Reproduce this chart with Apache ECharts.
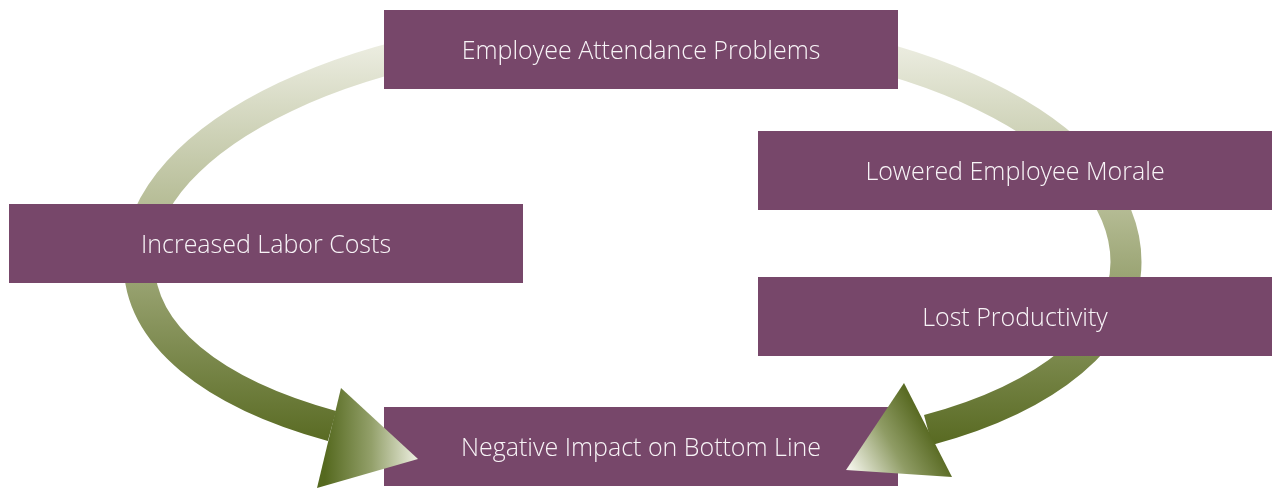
<!DOCTYPE html>
<html>
<head>
<meta charset="utf-8">
<title>Attendance cycle</title>
<script src="https://cdn.jsdelivr.net/npm/echarts@6/dist/echarts.min.js"></script>
<style>
	html, body { margin: 0; padding: 0; background: #fff; }
	#cycle { width: 1281px; height: 491px; }
</style>
</head>
<body>
<div id="cycle"></div>
<script>
// step labels of the cycle, in reading order
var steps = [
	'Employee Attendance Problems',
	'Lowered Employee Morale',
	'Lost Productivity',
	'Negative Impact on Bottom Line',
	'Increased Labor Costs'
];

var chart = echarts.init(document.getElementById('cycle'), null, { renderer: 'canvas' });

// where each box sits (left, top), same order as steps
var slots = [[384, 10], [758, 131], [758, 277], [384, 407], [9, 204]];
var boxW = 514, boxH = 79;

function linear(x, y, x2, y2, stops) {
	return {
		type: 'linear', x: x, y: y, x2: x2, y2: y2, global: true,
		colorStops: stops
	};
}

var ringColor = linear(0, 20, 0, 450, [
	{ offset: 0, color: '#f4f4ec' },
	{ offset: 0.45, color: '#b3ba92' },
	{ offset: 1, color: '#56681f' }
]);

// the loop as four curve pieces: [x1, y1, cpx1, cpy1, cpx2, cpy2, x2, y2]
var ringPieces = [
	[641, 27, 362, 27, 139, 135, 139, 262],
	[139, 262, 139, 335, 212, 393, 332, 426],
	[641, 27, 909, 27, 1126, 132, 1126, 262],
	[1126, 262, 1126, 335, 1048, 398, 928, 430]
];

var elements = [];

ringPieces.forEach(function (p) {
	elements.push({
		type: 'bezierCurve',
		shape: {
			x1: p[0], y1: p[1], cpx1: p[2], cpy1: p[3],
			cpx2: p[4], cpy2: p[5], x2: p[6], y2: p[7]
		},
		style: { fill: null, stroke: ringColor, lineWidth: 31 },
		z: 1
	});
});

steps.forEach(function (txt, i) {
	elements.push({
		type: 'rect',
		shape: { x: slots[i][0], y: slots[i][1], width: boxW, height: boxH },
		style: { fill: '#77476a' },
		z: 2
	});
	elements.push({
		type: 'text',
		x: slots[i][0] + boxW / 2,
		y: slots[i][1] + boxH / 2 + 2,
		style: {
			text: txt,
			fill: '#f8f4f7',
			font: '300 25px "Open Sans"',
			align: 'center',
			verticalAlign: 'middle'
		},
		z: 3
	});
});

// arrowheads
elements.push({
	type: 'polygon',
	shape: { points: [[341, 388], [317, 488], [418, 459]] },
	style: {
		fill: linear(325, 0, 418, 0, [
			{ offset: 0, color: '#55691f' },
			{ offset: 0.5, color: '#93a06a' },
			{ offset: 1, color: '#eef0e2' }
		])
	},
	z: 4
});
elements.push({
	type: 'polygon',
	shape: { points: [[904, 383], [952, 477], [846, 470]] },
	style: {
		fill: linear(850, 468, 925, 425, [
			{ offset: 0, color: '#f2f3e8' },
			{ offset: 0.55, color: '#8f9c65' },
			{ offset: 1, color: '#5a6b24' }
		])
	},
	z: 4
});

option = {
	backgroundColor: '#fff',
	animation: false,
	graphic: { elements: elements }
};

chart.setOption(option);

window.onresize = function () {
	chart.resize();
}
</script>
</body>
</html>
